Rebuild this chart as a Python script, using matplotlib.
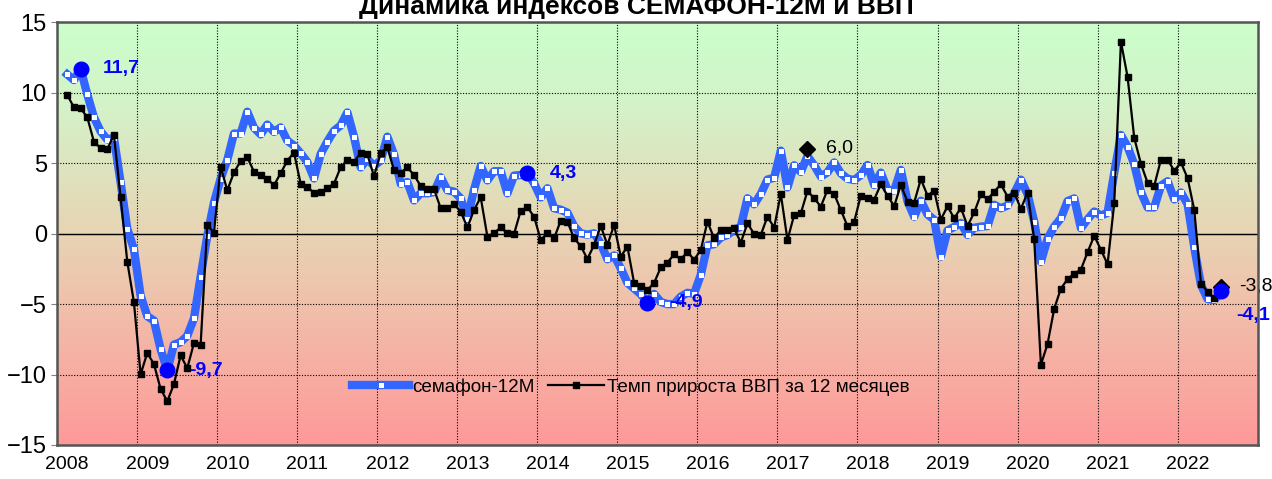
import numpy as np
import pandas as pd
import matplotlib
matplotlib.use('Agg')
import matplotlib.pyplot as plt
from matplotlib.colors import LinearSegmentedColormap

plt.rcParams['font.family'] = ['Liberation Sans', 'DejaVu Sans']

# ---- данные ----
title = 'Динамика индексов СЕМАФОН-12М и ВВП'
semafon_name = 'семафон-12М'
gdp_name = 'Темп прироста ВВП за 12 месяцев'
start_month = '2008-02'

# индекс семафон-12М, помесячно с фев 2008 по июл 2022
semafon = [
    11.3, 10.9, 11.7, 9.89, 8.26, 7.26, 6.68, 6.8, 3.64, 0.35, -1.11,
    -4.4, -5.86, -6.17, -8.2, -9.7, -7.88, -7.7, -7.25, -6.02, -3.05, -0.15, 2.2,
    3.9, 5.23, 7.1, 7.1, 8.65, 7.52, 7.04, 7.74, 7.22, 7.54, 6.6, 6.25,
    5.7, 5.09, 3.92, 5.65, 6.53, 7.3, 7.68, 8.6, 6.88, 4.7, 5.3, 4.8,
    5.2, 6.88, 5.62, 3.54, 3.66, 2.36, 2.88, 2.86, 2.95, 4.0, 3.08, 2.98,
    2.5, 1.05, 3.12, 4.8, 3.78, 4.43, 4.43, 2.86, 4.12, 4.16, 4.3, 3.57,
    2.57, 3.22, 1.8, 1.7, 1.49, 0.52, 0.02, -0.07, 0.02, -0.7, -1.82, -1.55,
    -2.46, -3.5, -3.89, -4.3, -4.9, -4.28, -4.85, -5.0, -5.0, -4.47, -4.2, -4.26,
    -2.93, -0.83, -0.75, -0.27, -0.09, 0.26, 0.5, 2.51, 2.08, 2.82, 3.84, 3.96,
    5.89, 3.28, 4.85, 4.38, 5.5, 4.85, 4.05, 4.35, 5.05, 4.28, 3.9, 3.8,
    4.16, 4.87, 3.45, 4.33, 3.1, 3.06, 4.52, 2.3, 1.2, 2.34, 1.36, 0.98,
    -1.63, 0.23, 0.48, 0.76, -0.09, 0.42, 0.5, 0.54, 2.05, 1.8, 2.0, 2.85,
    3.83, 2.8, 0.85, -2.0, -0.35, 0.5, 1.09, 2.31, 2.5, 0.39, 1.02, 1.57,
    1.28, 1.48, 4.32, 7.0, 6.17, 4.93, 2.95, 1.86, 1.86, 3.4, 3.72, 2.43,
    2.92, 2.09, -0.97, -3.64, -4.64, -4.71, -4.1,
]

# темп прироста ВВП за 12 месяцев, те же месяцы
gdp = [
    9.84, 8.97, 8.9, 8.26, 6.53, 6.06, 5.99, 7.0, 2.58, -1.98, -4.87,
    -9.99, -8.47, -9.26, -11.02, -11.9, -10.68, -8.64, -9.55, -7.76, -7.9, 0.6, 0.08,
    4.73, 3.08, 4.34, 5.15, 5.42, 4.4, 4.14, 3.88, 3.44, 4.28, 5.18, 5.75,
    3.54, 3.29, 2.91, 2.92, 3.25, 3.54, 4.71, 5.23, 5.1, 5.72, 5.62, 4.08,
    5.7, 6.13, 4.5, 4.33, 4.7, 4.16, 3.38, 3.17, 3.15, 1.8, 1.8, 2.1,
    1.56, 0.45, 1.68, 2.58, -0.21, 0.02, 0.45, 0.02, -0.02, 1.63, 1.87, 1.21,
    -0.45, 0.02, -0.33, 0.92, 0.85, -0.33, -0.88, -1.8, -0.8, 0.54, -0.8, 0.62,
    -1.63, -0.92, -3.5, -3.74, -4.0, -3.5, -2.4, -2.05, -1.48, -1.82, -1.3, -1.85,
    -1.16, 0.85, -0.33, 0.26, 0.26, 0.38, -0.64, 0.73, -0.02, -0.09, 1.21, 0.43,
    2.82, -0.45, 1.32, 1.44, 3.03, 2.51, 1.92, 3.1, 2.82, 1.68, 0.53, 0.84,
    2.7, 2.53, 2.42, 3.5, 2.7, 1.94, 3.47, 2.25, 2.2, 3.87, 2.7, 3.04,
    1.0, 1.94, 1.09, 1.83, 0.54, 1.5, 2.78, 2.44, 2.98, 3.5, 2.63, 2.91,
    1.76, 2.91, -0.4, -9.3, -7.83, -5.32, -3.9, -3.23, -2.84, -2.55, -1.32, -0.15,
    -1.15, -2.17, 2.17, 13.63, 11.12, 6.79, 4.96, 3.6, 3.4, 5.25, 5.25, 4.46,
    5.05, 3.93, 1.68, -3.54, -4.12, -4.6, -3.8,
]

# отмеченные точки
semafon_marks = ['2008-04', '2009-05', '2013-11', '2015-05', '2022-07']
gdp_marks = ['2017-05', '2022-07']
gdp_mark_values = [6.0, -3.8]
years = list(range(2008, 2023))


def to_x(d):
    # середина месяца в долях года
    return d.year + (d.month - 0.5) / 12


def fmt(v):
    return f'{v:.1f}'.replace('.', ',')


months = pd.date_range(start_month, periods=len(semafon), freq='MS')
x = np.asarray(to_x(months))
sem = pd.Series(semafon, index=months)

fig = plt.figure(figsize=(12.72, 4.79), dpi=100)
ax = fig.add_axes([0.0450, 0.0710, 0.9437, 0.8825])

# фон: зелёный сверху, красный снизу
bg = LinearSegmentedColormap.from_list(
    'bg', [(0, '#ff9999'), (0.5, '#e8d4b4'), (0.8, '#d4f2c8'), (1, '#ccffcc')])
ax.imshow(np.linspace(0, 1, 256).reshape(-1, 1), cmap=bg, origin='lower',
          extent=[2008, 2023, -15, 15], aspect='auto', zorder=0)

# линии
ax.plot(x, semafon, color='#3366ff', lw=6, marker='s', ms=3.6,
        mfc='white', mec='white', mew=0, solid_joinstyle='round',
        label=semafon_name, zorder=3)
ax.plot(x[:-1], gdp[:-1], color='black', lw=1.6, marker='s', ms=4.3,
        label=gdp_name, zorder=4)
ax.plot(x[-2:], gdp[-2:], color='black', lw=1.6, zorder=4)

# ромбы ВВП
gx = [to_x(pd.Timestamp(m)) for m in gdp_marks]
ax.plot(gx, gdp_mark_values, ls='none', marker='D', ms=8, color='black', zorder=5)
for xx, v in zip(gx, gdp_mark_values):
    ax.annotate(fmt(v), (xx, v), xytext=(13, 1), textcoords='offset points',
                va='center', ha='left', fontsize=14, color='black', zorder=7,
                annotation_clip=False)

# точки семафона
for i, m in enumerate(semafon_marks):
    t = pd.Timestamp(m)
    v = sem[t]
    xx = to_x(t)
    ax.plot(xx, v, 'o', ms=10.5, color='#0000ff', zorder=6)
    off = (11, -17) if i == len(semafon_marks) - 1 else (16, 0)
    ax.annotate(fmt(v), (xx, v), xytext=off, textcoords='offset points',
                va='center', ha='left', fontsize=14, fontweight='bold',
                color='#0000ff', zorder=7, annotation_clip=False)

ax.axhline(0, color='black', lw=1, zorder=2)

ax.set_xlim(2008, 2023)
ax.set_ylim(-15, 15)
ax.set_yticks(range(-15, 16, 5))
ax.set_xticks([y + 1.5 / 12 for y in years])
ax.set_xticklabels([str(y) for y in years])
ax.set_xticks(years[1:], minor=True)
ax.grid(which='minor', axis='x', color='black', ls=(0, (1, 1.5)), lw=0.8, zorder=1)
ax.grid(which='major', axis='y', color='black', ls=(0, (1, 1.5)), lw=0.8, zorder=1)
ax.set_axisbelow(False)
ax.tick_params(axis='x', which='both', length=0, labelsize=14, pad=8)
ax.tick_params(axis='y', direction='out', length=4.5, color='#808080',
               labelsize=17, pad=3)
for s in ax.spines.values():
    s.set_color('#555555')
    s.set_linewidth(1.8)
    s.set_zorder(8)

ax.legend(loc='center', bbox_to_anchor=(0.478, 0.137), ncol=2, frameon=False,
          fontsize=13.6, handlelength=3.0, handletextpad=0.15, columnspacing=0.7)

fig.text(0.5, 1 - 14 / 479, title, ha='center', va='baseline',
         fontsize=19, fontweight='bold')

fig.savefig('out.png', dpi=100)
